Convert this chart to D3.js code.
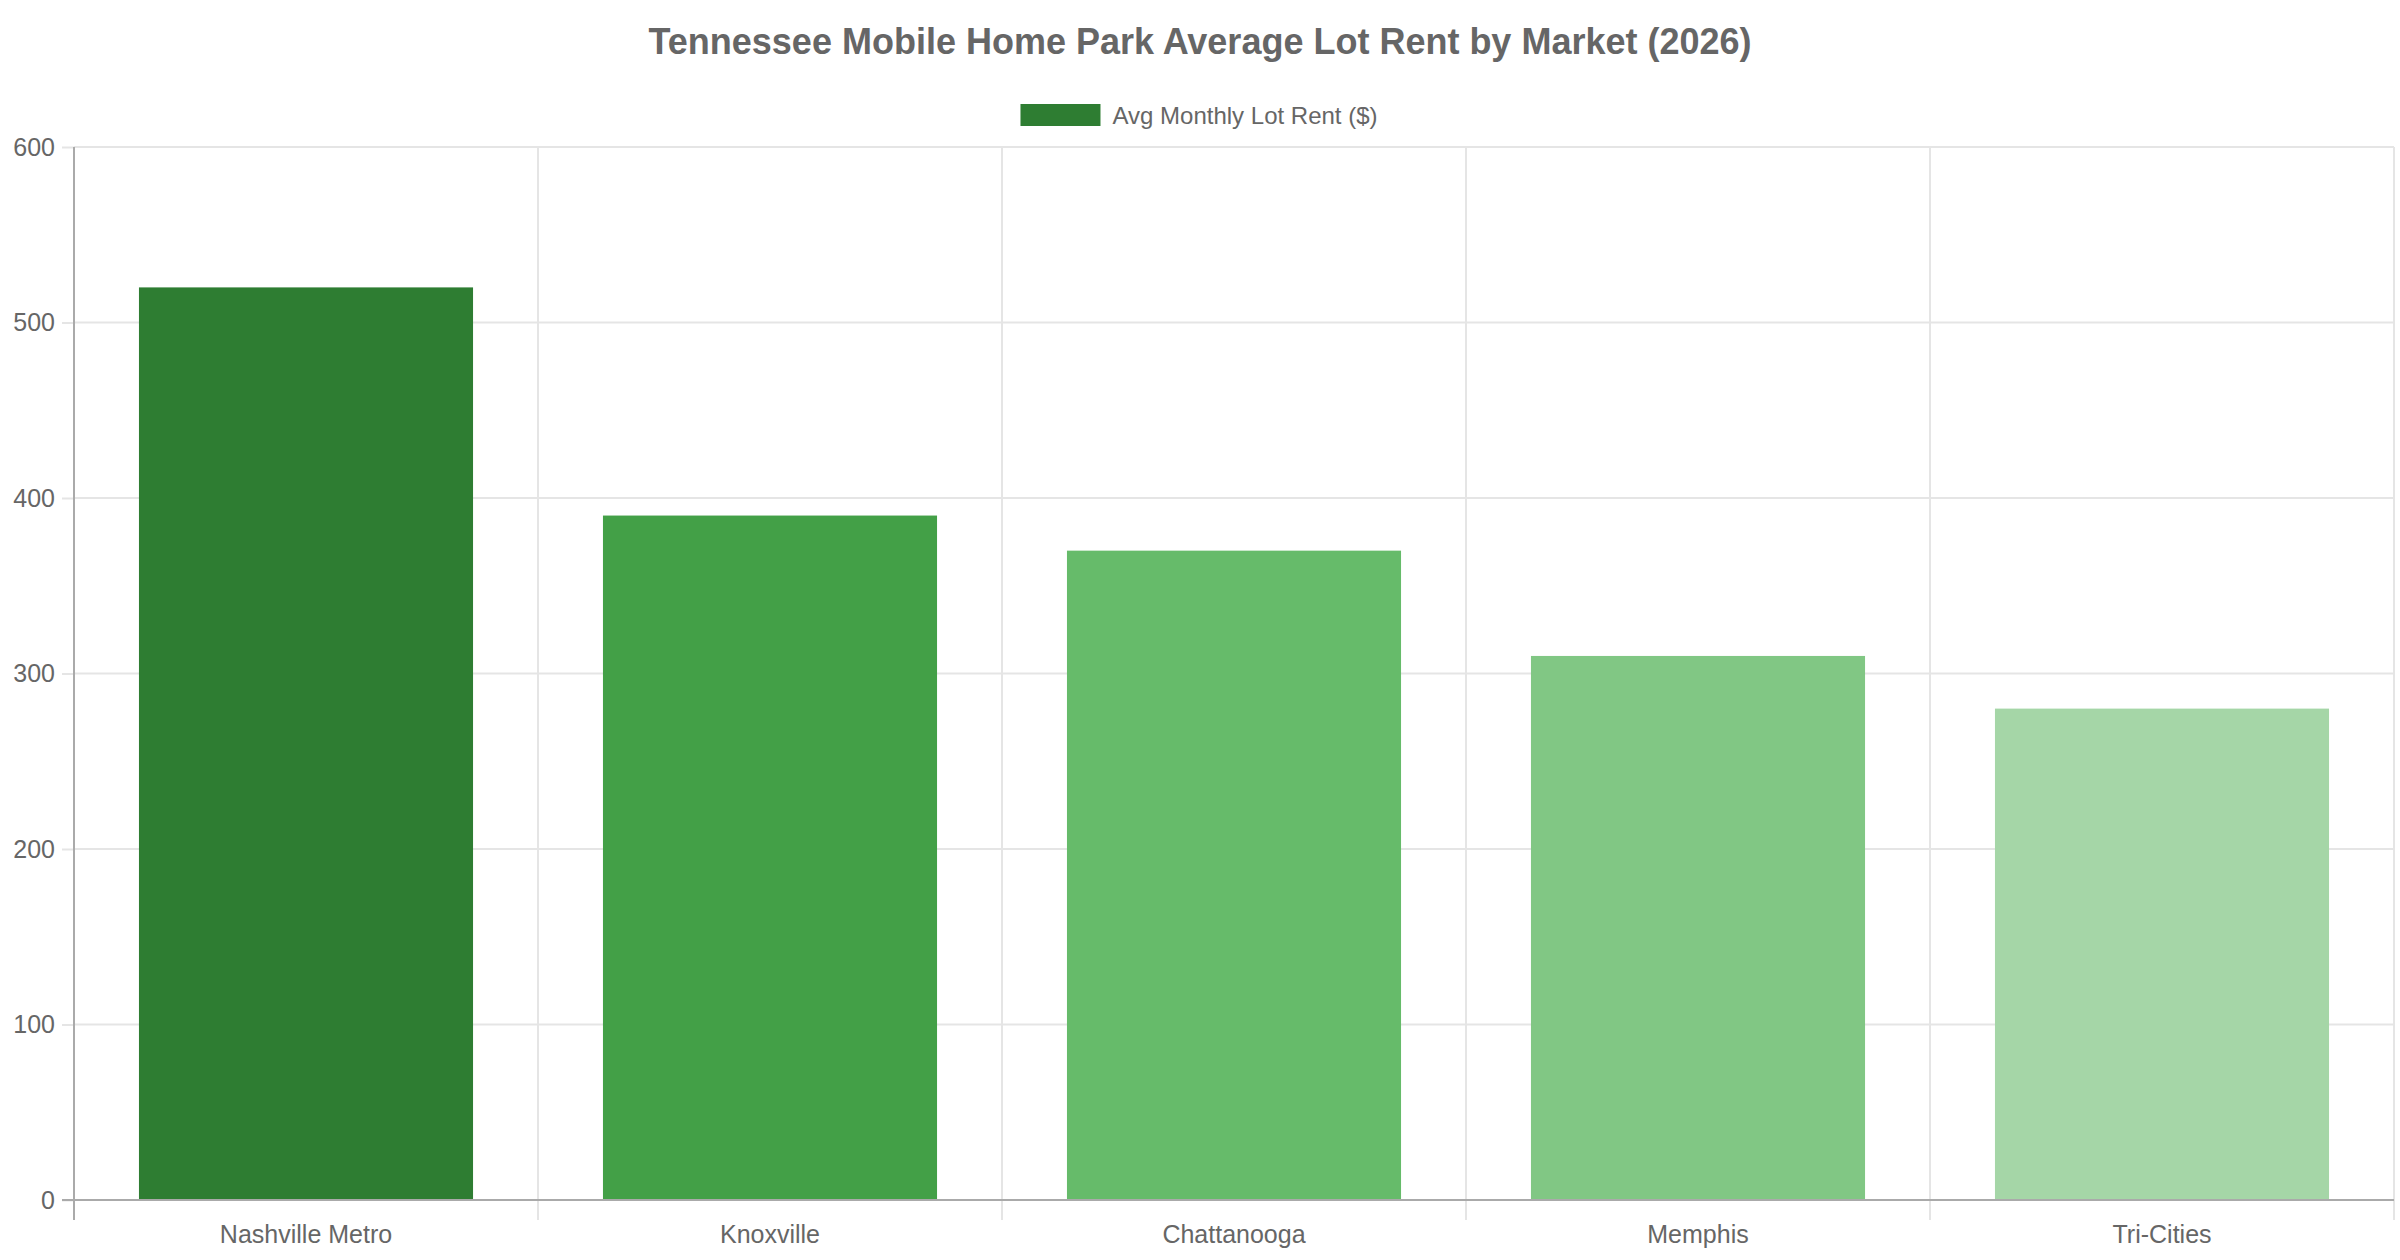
<!DOCTYPE html>
<html>
<head>
<meta charset="utf-8">
<script src="https://cdn.jsdelivr.net/npm/d3@7/dist/d3.min.js"></script>
<style>
  body { margin: 0; background: #fff; }
  text { font-family: "Liberation Sans", Arial, sans-serif; fill: #666; }
</style>
</head>
<body>
<div class="svg-container"></div>
<script>
// chart data
const markets = ['Nashville Metro', 'Knoxville', 'Chattanooga', 'Memphis', 'Tri-Cities'];
const lotRent = [520, 390, 370, 310, 280];
const barColors = ['#2e7d32', '#43a047', '#66bb6a', '#81c784', '#a5d6a7'];
const yTicks = [0, 100, 200, 300, 400, 500, 600];
const seriesName = 'Avg Monthly Lot Rent ($)';
const chartTitle = 'Tennessee Mobile Home Park Average Lot Rent by Market (2026)';

const svgWidth = 2400;
const svgHeight = 1260;
const margin = { top: 147, right: 6, bottom: 60, left: 74 };
const width = svgWidth - margin.left - margin.right;
const height = svgHeight - margin.top - margin.bottom;

const svg = d3.select('.svg-container')
  .append('svg')
  .attr('width', svgWidth)
  .attr('height', svgHeight);

// title
svg.append('text')
  .attr('x', svgWidth / 2)
  .attr('y', 41)
  .attr('text-anchor', 'middle')
  .attr('dominant-baseline', 'central')
  .style('font-size', '36px')
  .style('font-weight', 'bold')
  .text(chartTitle);

// legend
const legend = svg.append('g');
const legendText = legend.append('text')
  .attr('y', 115)
  .attr('dominant-baseline', 'central')
  .style('font-size', '24px')
  .text(seriesName);
const textW = legendText.node().getComputedTextLength();
const boxW = 80;
const totalW = boxW + 12 + textW;
const lx = (svgWidth - totalW) / 2 - 1;
legend.insert('rect', 'text')
  .attr('x', lx)
  .attr('y', 104)
  .attr('width', boxW)
  .attr('height', 22)
  .attr('fill', barColors[0]);
legendText.attr('x', lx + boxW + 12);

const group = svg.append('g')
  .attr('transform', `translate(${margin.left}, ${margin.top})`);

const slot = d3.scaleBand().domain(markets).range([0, width]).padding(0);
const y = d3.scaleLinear().domain([0, 600]).range([height, 0]);

// horizontal grid
group.append('g')
  .selectAll('line')
  .data(yTicks)
  .join('line')
  .attr('x1', 0)
  .attr('x2', width)
  .attr('y1', (d) => y(d))
  .attr('y2', (d) => y(d))
  .attr('stroke', '#e5e5e5')
  .attr('stroke-width', 2);

// vertical grid at category boundaries (extends below as tick marks)
const bounds = markets.map((m) => slot(m)).concat([width]);
group.append('g')
  .selectAll('line')
  .data(bounds)
  .join('line')
  .attr('x1', (d) => d)
  .attr('x2', (d) => d)
  .attr('y1', 0)
  .attr('y2', height + 20)
  .attr('stroke', '#e5e5e5')
  .attr('stroke-width', 2);

// bars
group.append('g')
  .selectAll('rect')
  .data(markets)
  .join('rect')
  .attr('x', (d) => slot(d) + slot.bandwidth() * 0.14)
  .attr('width', slot.bandwidth() * 0.72)
  .attr('y', (d, i) => y(lotRent[i]))
  .attr('height', (d, i) => height - y(lotRent[i]))
  .attr('fill', (d, i) => barColors[i]);

// Y axis
const yAxis = group.append('g')
  .call(d3.axisLeft(y).tickValues(yTicks).tickSize(12).tickPadding(7));
yAxis.select('.domain').remove();
yAxis.selectAll('line').attr('stroke', '#e5e5e5').attr('stroke-width', 2);
yAxis.selectAll('text').style('font-size', '25px').attr('fill', '#666');

// axis lines
group.append('line')
  .attr('x1', 0).attr('x2', 0)
  .attr('y1', 0).attr('y2', height + 20)
  .attr('stroke', '#aaa').attr('stroke-width', 2);
group.append('line')
  .attr('x1', -12).attr('x2', width)
  .attr('y1', height).attr('y2', height)
  .attr('stroke', '#aaa').attr('stroke-width', 2);

// X labels
const xAxis = group.append('g')
  .attr('transform', `translate(0, ${height})`)
  .call(d3.axisBottom(slot).tickSize(0).tickPadding(25));
xAxis.select('.domain').remove();
xAxis.selectAll('text').style('font-size', '25px').attr('fill', '#666');
</script>
</body>
</html>
